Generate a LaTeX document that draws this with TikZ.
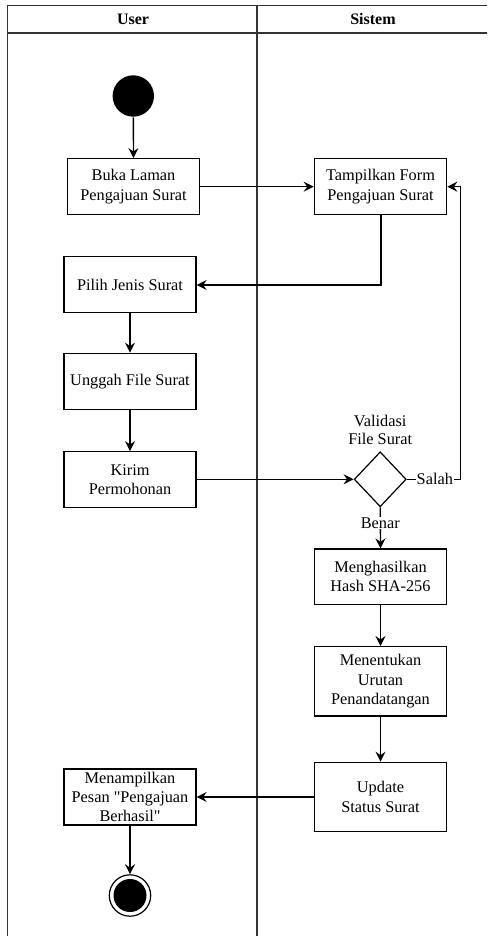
\documentclass[tikz,border=0pt]{standalone}
\usepackage{fontspec}
\setmainfont{Liberation Serif}[Ligatures=TeXOff]
\usetikzlibrary{arrows.meta,shapes.geometric}

\begin{document}
\begin{tikzpicture}[x=1pt,y=-1pt,
  line width=1.3pt,
  txt/.style={font=\fontsize{16.3}{19.4}\selectfont, align=center},
  act/.style={txt, draw, rectangle, inner sep=0pt, minimum width=#1},
  act/.default=132pt,
  flow/.style={-{Stealth[length=10pt,width=10pt,inset=3.5pt]}},
  lane/.style={line width=1.4pt, draw=black!80},
  lbl/.style={txt, fill=white, inner sep=1pt}
]
\useasboundingbox (0,0) rectangle (487,936);
\begin{scope}
\clip (0,0) rectangle (487,936);
% swimlane frame
\draw[lane] (7.5,940) -- (7.5,5.7) -- (495,5.7);
\draw[lane] (7.5,33) -- (495,33);
\draw[lane] (257,5.7) -- (257,940);
\node[font=\fontsize{16}{18}\selectfont\bfseries] (hu) at (133,19.5) {User};
\node[font=\fontsize{16}{18}\selectfont\bfseries] (hs) at (373,19.5) {Sistem};
\end{scope}

% start and end states
\node[circle, fill=black, minimum size=41.4pt, inner sep=0pt] (start) at (133.3,96) {};
\node[circle, draw, line width=1.2pt, fill=white, minimum size=41.4pt, inner sep=0pt] (end) at (130,895.5) {};
\node[circle, fill=black, minimum size=33pt, inner sep=0pt] (endin) at (end.center) {};

% activities
\node[act=131.6pt, minimum height=56pt] (buka) at (133.5,186.7) {Buka Laman\\Pengajuan Surat};
\node[act=132.4pt, minimum height=56pt] (form) at (380.5,186.7) {Tampilkan Form\\Pengajuan Surat};
\node[act, minimum height=55.6pt] (pilih) at (130,284.5) {Pilih Jenis Surat};
\node[act, minimum height=56pt] (unggah) at (130,381.3) {Unggah File Surat};
\node[act, minimum height=55.6pt] (kirim) at (130,479.5) {Kirim\\Permohonan};
\node[draw, diamond, minimum width=52pt, minimum height=55pt, inner sep=0pt, line width=1.2pt] (valid) at (380.2,479.3) {};
\node[txt, font=\fontsize{16.3}{18}\selectfont] (vlbl) at (380.2,429.5) {Validasi\\File Surat};
\node[act=132.4pt, minimum height=55.3pt] (hash) at (380.5,576.7) {Menghasilkan\\Hash SHA-256};
\node[act=132.4pt, minimum height=69.3pt] (urut) at (380.5,681.3) {Menentukan\\Urutan\\Penandatangan};
\node[act=132.4pt, minimum height=69.4pt] (upd) at (380.5,797) {Update\\Status Surat};
\node[act, minimum height=56pt] (pesan) at (130,797) {Menampilkan\\Pesan "Pengajuan\\Berhasil"};

% corner points of routed connectors
\coordinate (c1) at (381,285);
\coordinate (c2) at (460.7,479.3);
\coordinate (c3) at (460.7,186.7);

% connectors
\draw[flow] (start) -- (buka);
\draw[flow] (buka) -- (form);
\draw[flow] (form.south -| c1) -- (c1) -- (pilih.east |- c1);
\draw[flow] (pilih) -- (unggah);
\draw[flow] (unggah) -- (kirim);
\draw[flow] (kirim.east |- valid) -- (valid.west);
\draw[flow] (valid.east) -- node[lbl, pos=0.52] (salah) {Salah} (c2) -- (c3) -- (form.east |- c3);
\draw[flow] (valid.south) -- node[lbl, pos=0.38] (benar) {Benar} (hash.north);
\draw[flow] (hash) -- (urut);
\draw[flow] (urut) -- (upd);
\draw[flow] (upd.west) -- (pesan.east);
\draw[flow] (pesan) -- (end);
\end{tikzpicture}
\end{document}
